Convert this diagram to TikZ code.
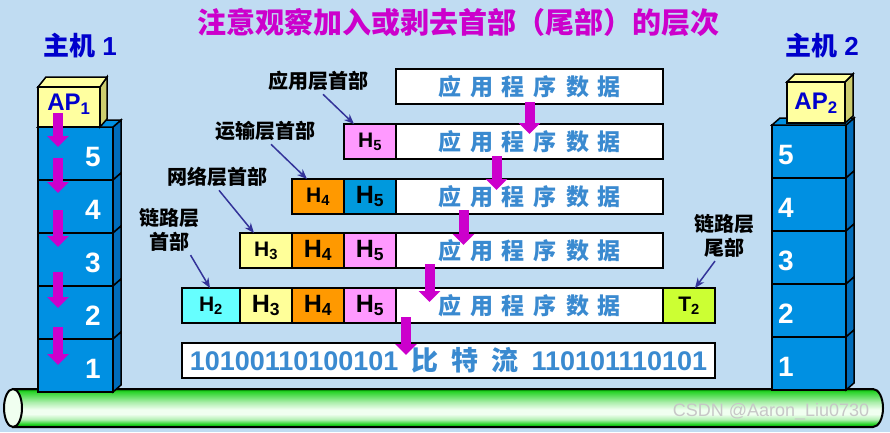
\documentclass[tikz,border=0pt]{standalone}
\usepackage{fontspec}
\setmainfont{Liberation Sans}
\newfontfamily\cjk{Noto Sans CJK SC}
\usetikzlibrary{arrows.meta, positioning}

\definecolor{bgblue}{RGB}{192,220,242}
\definecolor{mag}{RGB}{204,0,204}
\definecolor{hostblue}{RGB}{0,0,204}
\definecolor{layerblue}{RGB}{0,144,226}
\definecolor{layerdark}{RGB}{0,108,186}
\definecolor{apyellow}{RGB}{255,255,160}
\definecolor{apdark}{RGB}{205,205,110}
\definecolor{hpink}{RGB}{255,153,255}
\definecolor{horange}{RGB}{255,153,0}
\definecolor{hblue}{RGB}{0,153,221}
\definecolor{hyellow}{RGB}{255,255,153}
\definecolor{hcyan}{RGB}{102,255,255}
\definecolor{tgreen}{RGB}{204,255,51}
\definecolor{datablue}{RGB}{58,138,208}
\definecolor{ptrblue}{RGB}{51,51,153}
\definecolor{tubeend}{RGB}{0,140,0}
\definecolor{tubegreen}{RGB}{40,212,40}
\definecolor{tubelight}{RGB}{240,255,240}

\pgfdeclareverticalshading{tube}{100bp}{color(0bp)=(tubeend); color(25bp)=(tubeend);
  color(29bp)=(tubegreen); color(35bp)=(tubegreen!35!white); color(42bp)=(tubelight);
  color(48bp)=(tubelight); color(58bp)=(tubegreen!40!white); color(66bp)=(tubegreen!75!white);
  color(72bp)=(tubegreen); color(75bp)=(tubeend); color(100bp)=(tubeend)}

\newcommand{\appdata}{应\hspace{9pt}用\hspace{9pt}程\hspace{9pt}序\hspace{9pt}数\hspace{9pt}据}

\begin{document}
\begin{tikzpicture}[x=1pt, y=-1pt,
    hdr/.style={draw, line width=1.2pt, minimum height=35pt, minimum width=52pt,
      inner sep=0pt, outer sep=0pt, font=\bfseries\fontsize{25}{25}\selectfont},
    hdrnew/.style={hdr, font=\bfseries\fontsize{21}{21}\selectfont},
    appbox/.style={hdr, fill=white, minimum width=267pt, text=datablue,
      font=\cjk\bfseries\fontsize{23}{23}\selectfont},
    lab/.style={font=\cjk\bfseries\fontsize{20}{24}\selectfont, align=center},
    ptr/.style={-{Stealth[length=10pt,width=8pt]}, line width=1.5pt, draw=ptrblue},
    pushdown/.style={-{Triangle[length=11pt,width=21pt]}, line width=10pt, draw=mag},
    layer/.style={draw, line width=1.5pt, fill=layerblue},
    layerface/.style={draw, line width=1.5pt, fill=layerdark},
    apbox/.style={draw, line width=1.5pt, fill=apyellow},
    apface/.style={draw, line width=1.5pt, fill=apdark},
    num/.style={text=white, font=\bfseries\fontsize{28}{28}\selectfont},
    host/.style={text=hostblue, font=\bfseries\fontsize{26}{26}\selectfont}
  ]
    \useasboundingbox (0,0) rectangle (890,432);
    \fill[bgblue] (0,0) rectangle (890,432);

    % title and hosts
    \node[text=mag, font=\cjk\bfseries\fontsize{29}{29}\selectfont] (title) at (458,22)
      {注意观察加入或剥去首部（尾部）的层次};
    \node[host] (host1) at (80,46) {{\cjk 主机} 1};
    \node[host] (host2) at (822,46) {{\cjk 主机} 2};

    % cable
    \shade[shading=tube, draw=black, line width=2pt] (13,389) -- (873,389)
      arc[start angle=90, end angle=-90, x radius=10pt, y radius=19pt] -- (13,427) -- cycle;
    \draw[line width=2pt, fill=tubelight] (13,408) ellipse[x radius=9pt, y radius=19pt];
    \node[text=black!22, font=\fontsize{18}{18}\selectfont] (mark) at (771,412)
      {CSDN @Aaron\_Liu0730};

    % host 1 stack
    \foreach \n [count=\i from 0] in {5,4,3,2,1} {
      \pgfmathsetmacro\t{127+53*\i}
      \draw[layer] (38,\t) rectangle ++(75,53);
      \draw[layerface] (113,\t) -- ++(8,-7) -- ++(0,53) -- ++(-8,7) -- cycle;
      \node[num] (h1n\n) at (93,\t+30) {\n};
    }
    \draw[layer] (38,127) -- (46,120) -- (121,120) -- (113,127) -- cycle;
    \draw[apface] (100,87) -- (107,77) -- (107,119) -- (100,127) -- cycle;
    \draw[apbox] (38,87) -- (46,77) -- (107,77) -- (100,87) -- cycle;
    \draw[apbox] (38,87) rectangle (100,127);
    \node[host, font=\bfseries\fontsize{24}{24}\selectfont] (ap1) at (69,104) {AP\textsubscript{1}};
    \foreach \a/\b in {113/147, 158/193, 210/247, 272/308, 327/365}
      \draw[pushdown] (58,\a) -- (58,\b);

    % host 2 stack
    \foreach \n [count=\i from 0] in {5,4,3,2,1} {
      \pgfmathsetmacro\t{125+53*\i}
      \draw[layer] (772,\t) rectangle ++(74,53);
      \draw[layerface] (846,\t) -- ++(8,-7) -- ++(0,53) -- ++(-8,7) -- cycle;
      \node[num] (h2n\n) at (786,\t+30) {\n};
    }
    \draw[layer] (772,125) -- (780,118) -- (854,118) -- (846,125) -- cycle;
    \draw[apface] (845,82) -- (853,74) -- (853,116) -- (845,123) -- cycle;
    \draw[apbox] (787,82) -- (795,74) -- (853,74) -- (845,82) -- cycle;
    \draw[apbox] (787,82) rectangle (845,123);
    \node[host, font=\bfseries\fontsize{24}{24}\selectfont] (ap2) at (816,103) {AP\textsubscript{2}};

    % frames
    \node[appbox, anchor=north west] (r1d) at (396,69) {\appdata};

    \node[hdrnew, fill=hpink, anchor=north west] (r2h5) at (344,124) {H\textsubscript{5}};
    \node[appbox, right=0pt of r2h5] (r2d) {\appdata};

    \node[hdrnew, fill=horange, anchor=north west] (r3h4) at (292,179) {H\textsubscript{4}};
    \node[hdr, fill=hblue, right=0pt of r3h4] (r3h5) {H\textsubscript{5}};
    \node[appbox, right=0pt of r3h5] (r3d) {\appdata};

    \node[hdrnew, fill=hyellow, anchor=north west] (r4h3) at (240,233) {H\textsubscript{3}};
    \node[hdr, fill=horange, right=0pt of r4h3] (r4h4) {H\textsubscript{4}};
    \node[hdr, fill=hpink, right=0pt of r4h4] (r4h5) {H\textsubscript{5}};
    \node[appbox, right=0pt of r4h5] (r4d) {\appdata};

    \node[hdrnew, fill=hcyan, minimum width=58pt, anchor=north west] (r5h2) at (182,288)
      {H\textsubscript{2}};
    \node[hdr, fill=hyellow, right=0pt of r5h2] (r5h3) {H\textsubscript{3}};
    \node[hdr, fill=horange, right=0pt of r5h3] (r5h4) {H\textsubscript{4}};
    \node[hdr, fill=hpink, right=0pt of r5h4] (r5h5) {H\textsubscript{5}};
    \node[appbox, right=0pt of r5h5] (r5d) {\appdata};
    \node[hdrnew, fill=tgreen, right=0pt of r5d] (r5t2) {T\textsubscript{2}};

    \node[hdr, fill=white, minimum width=533pt, anchor=north west, text=datablue,
      font=\bfseries\fontsize{27}{27}\selectfont] (bits) at (182,343)
      {10100110100101\hspace{13pt}{\cjk 比\hspace{13pt}特\hspace{13pt}流}\hspace{13pt}110101110101};

    % encapsulation steps
    \draw[pushdown] ([yshift=2pt]r1d.south) -- ([yshift=-10pt]r2d.north);
    \draw[pushdown] ([xshift=-33pt, yshift=3pt]r2d.south) -- ([xshift=-33pt, yshift=-11pt]r3d.north);
    \draw[pushdown] ([xshift=-66pt, yshift=4pt]r3d.south) -- ([xshift=-66pt, yshift=-12pt]r4d.north);
    \draw[pushdown] ([xshift=-100pt, yshift=4pt]r4d.south) -- ([xshift=-100pt, yshift=-14pt]r5d.north);
    \draw[pushdown] ([xshift=10pt, yshift=6pt]r5d.south west) -- ([xshift=224pt, yshift=-12pt]bits.north west);

    % header labels
    \node[lab] (lapp) at (318,81) {应用层首部};
    \node[lab] (ltra) at (265,131) {运输层首部};
    \node[lab] (lnet) at (217,177) {网络层首部};
    \node[lab] (llnk) at (169,230) {链路层\\首部};
    \node[lab] (ltrl) at (724,236) {链路层\\尾部};

    \draw[ptr] ([xshift=5pt]lapp.south) -- ([xshift=10pt]r2h5.north west);
    \draw[ptr] ([xshift=6pt]ltra.south) -- ([xshift=15pt]r3h4.north west);
    \draw[ptr] ([xshift=2pt]lnet.south) -- ([xshift=14pt]r4h3.north west);
    \draw[ptr] ([xshift=-12pt]llnk.south east) -- ([xshift=-1pt]r5h2.north);
    \draw[ptr] ([xshift=-9pt]ltrl.south) -- ([xshift=6pt]r5t2.north);
  \end{tikzpicture}
\end{document}
